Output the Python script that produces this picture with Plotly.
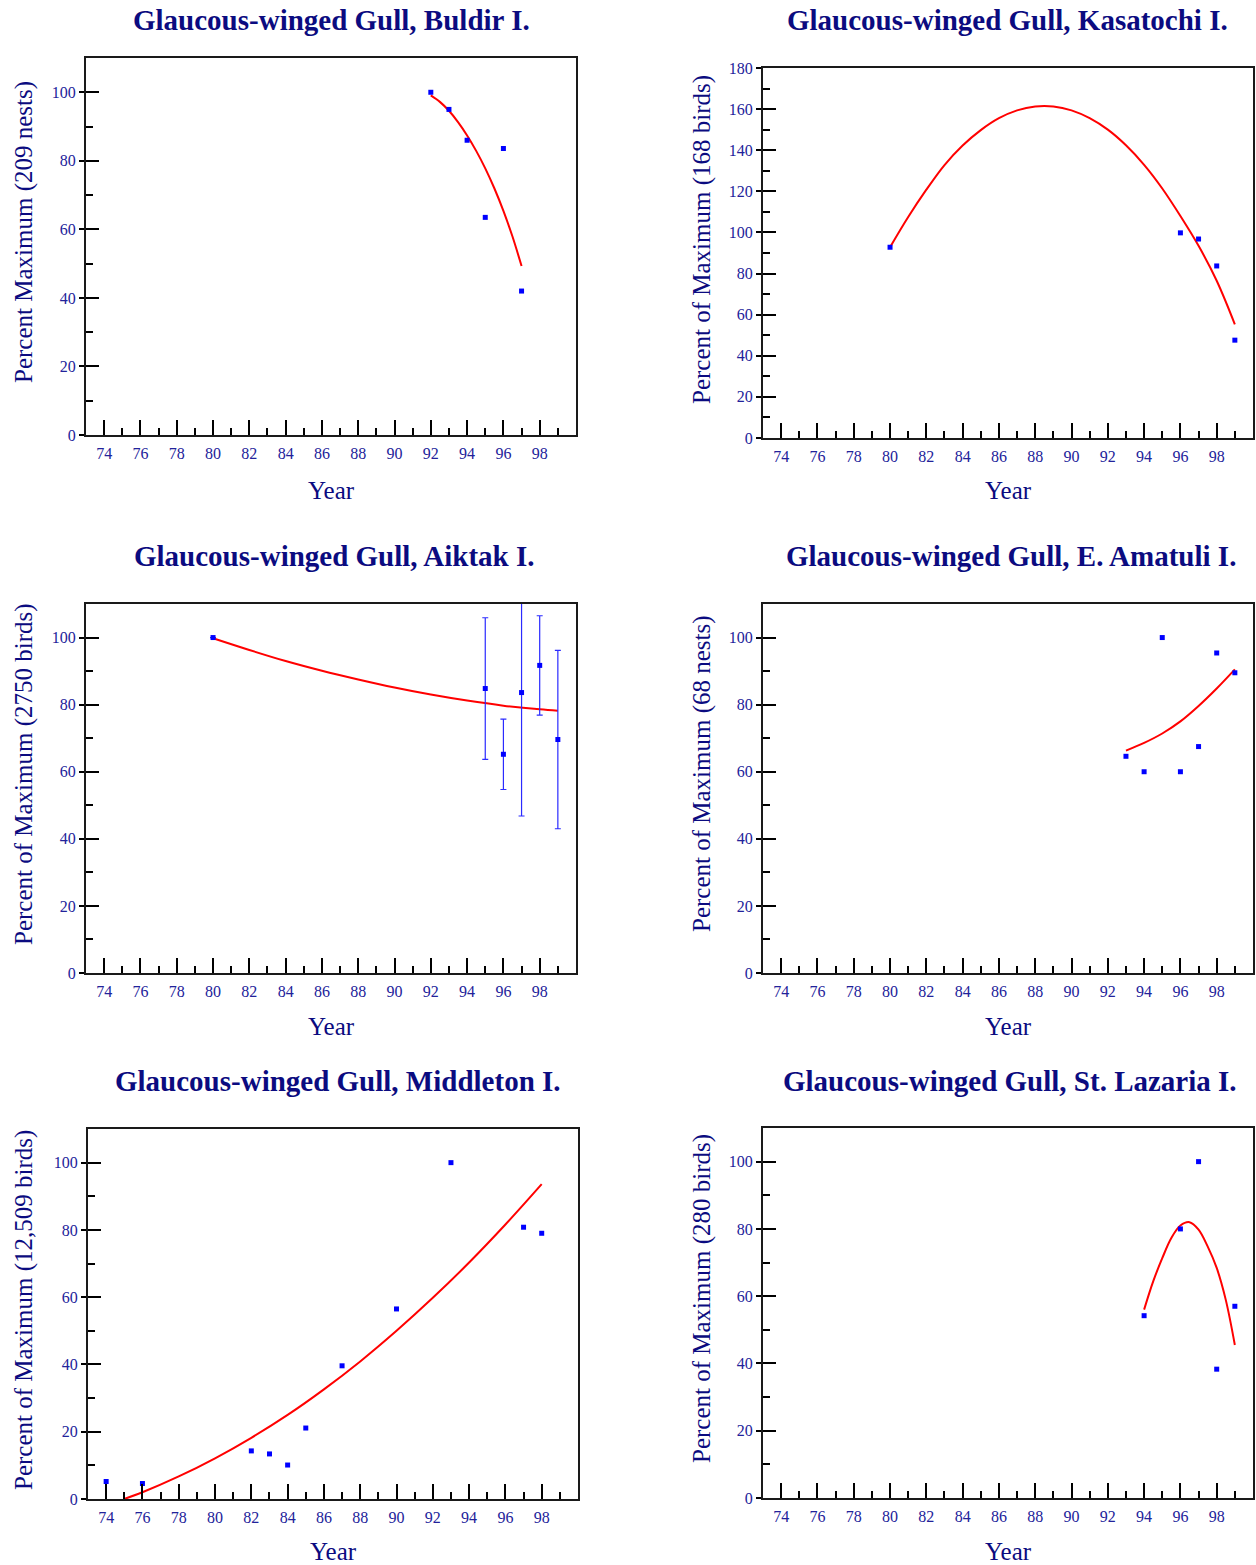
import plotly.graph_objects as go

# ---------------- data ----------------
buldir_years = [92, 93, 94, 95, 96, 97]
buldir_pct = [100, 95.0, 86.0, 63.5, 83.6, 42.0]
buldir_fit_years = [92, 92.5, 93, 93.5, 94, 94.5, 95, 95.5, 96, 96.5, 97]
buldir_fit = [99.1, 97.2, 94.6, 91.3, 87.4, 82.9, 77.8, 72.0, 65.4, 57.9, 49.3]

kasatochi_years = [80, 96, 97, 98, 99]
kasatochi_pct = [92.8, 99.8, 96.8, 83.7, 47.6]
kasatochi_fit_years = [80, 81, 82, 83, 84, 85, 86, 87, 88, 89, 90, 91, 92, 93, 94, 95, 96, 97, 98, 99]
kasatochi_fit = [92.8, 107.5, 120.8, 132.8, 142.3, 149.8, 155.6, 159.4, 161.3, 161.3,
                 159.4, 155.6, 150.0, 142.4, 132.9, 121.4, 108.0, 93.5, 76.5, 55.3]

aiktak_years = [80, 95, 96, 97, 98, 99]
aiktak_pct = [100, 84.8, 65.2, 83.6, 91.7, 69.6]
aiktak_err = [None, 21.1, 10.5, 36.8, 14.8, 26.6]
aiktak_fit_years = [80, 82, 84, 86, 88, 90, 92, 94, 96, 98, 99]
aiktak_fit = [99.8, 96.3, 93.0, 90.1, 87.5, 85.1, 83.0, 81.2, 79.7, 78.6, 78.2]

amatuli_years = [93, 94, 95, 96, 97, 98, 99]
amatuli_pct = [64.6, 60.0, 100, 60.0, 67.5, 95.4, 89.5]
amatuli_fit_years = [93, 94, 95, 96, 97, 98, 99]
amatuli_fit = [66.3, 68.6, 71.4, 75.0, 79.6, 84.8, 90.5]

middleton_years = [74, 76, 82, 83, 84, 85, 87, 90, 93, 97, 98]
middleton_pct = [5.2, 4.6, 14.3, 13.4, 10.1, 21.1, 39.6, 56.5, 100, 80.8, 79.0]
middleton_fit_years = [75, 76, 78, 80, 82, 84, 86, 88, 90, 92, 94, 96, 98]
middleton_fit = [0, 2.0, 6.7, 12.1, 18.2, 25.0, 32.6, 40.9, 50.0, 59.8, 70.3, 81.6, 93.6]

lazaria_years = [94, 96, 97, 98, 99]
lazaria_pct = [54.2, 80.0, 100, 38.3, 57.0]
lazaria_fit_years = [94, 94.5, 95, 95.5, 96, 96.5, 97, 97.5, 98, 98.5, 99]
lazaria_fit = [56.0, 64.4, 71.3, 77.3, 81.0, 82.0, 79.8, 74.8, 68.4, 58.9, 45.5]

titles = ["Glaucous-winged Gull, Buldir I.", "Glaucous-winged Gull, Kasatochi I.",
          "Glaucous-winged Gull, Aiktak I.", "Glaucous-winged Gull, E. Amatuli I.",
          "Glaucous-winged Gull, Middleton I.", "Glaucous-winged Gull, St. Lazaria I."]
ylabels = ["Percent Maximum (209 nests)", "Percent of Maximum (168 birds)",
           "Percent of Maximum (2750 birds)", "Percent of Maximum (68 nests)",
           "Percent of Maximum (12,509 birds)", "Percent of Maximum (280 birds)"]
x_label = "Year"
x_major = [74, 76, 78, 80, 82, 84, 86, 88, 90, 92, 94, 96, 98]
x_minor = [75, 77, 79, 81, 83, 85, 87, 89, 91, 93, 95, 97, 99]

series = [
    (buldir_years, buldir_pct, None, buldir_fit_years, buldir_fit, 110),
    (kasatochi_years, kasatochi_pct, None, kasatochi_fit_years, kasatochi_fit, 180),
    (aiktak_years, aiktak_pct, aiktak_err, aiktak_fit_years, aiktak_fit, 110),
    (amatuli_years, amatuli_pct, None, amatuli_fit_years, amatuli_fit, 110),
    (middleton_years, middleton_pct, None, middleton_fit_years, middleton_fit, 110),
    (lazaria_years, lazaria_pct, None, lazaria_fit_years, lazaria_fit, 110),
]

# ---------------- layout geometry (pixels) ----------------
W, H = 1256, 1565
boxes = [(86, 576, 58, 435), (763, 1253, 68, 438),
         (86, 576, 604, 973), (763, 1253, 604, 973),
         (88, 578, 1129, 1499), (763, 1253, 1128, 1498)]
title_pos = [(331, 20), (1007, 20), (334, 556), (1011, 556), (338, 1081), (1010, 1081)]
ylab_pos = [(24, 232), (702, 240), (24, 774), (702, 774), (24, 1310), (702, 1299)]
year_y = [490, 490, 1026, 1026, 1551, 1551]

SERIF = "Liberation Serif, Times New Roman, serif"
NAVY = "#0b0b80"
TICKC = "#22229a"

fig = go.Figure()
layout = dict(width=W, height=H, margin=dict(l=0, r=0, t=0, b=0, pad=0),
              paper_bgcolor="white", plot_bgcolor="white", showlegend=False,
              annotations=[])

def fx(p):
    return p / W

def fy(p):
    return 1 - p / H

for i, (xs, ys, err, fxs, fys, ymax) in enumerate(series):
    n = i + 1
    xl, xr, yt, yb = boxes[i]
    xa = "xaxis" if n == 1 else f"xaxis{n}"
    ya = "yaxis" if n == 1 else f"yaxis{n}"
    yo = f"yaxis{n + 6}"
    xref = "x" if n == 1 else f"x{n}"
    yref = "y" if n == 1 else f"y{n}"
    yoref = f"y{n + 6}"
    ymaj = list(range(0, ymax - 9, 20)) if ymax == 110 else list(range(0, 181, 20))
    ymin = list(range(10, ymax, 20))

    layout[xa] = dict(domain=[fx(xl), fx(xr)], range=[73, 100], anchor=yref,
                      automargin=False,
                      showgrid=False, zeroline=False, showline=True, mirror=True,
                      linecolor="#1a1a1a", linewidth=2,
                      tickmode="array", tickvals=x_major, ticktext=[str(v) for v in x_major],
                      ticks="inside", ticklen=15, tickwidth=1.5, tickcolor="black",
                      minor=dict(tickmode="array", tickvals=x_minor, ticks="inside",
                                 ticklen=7, tickwidth=1.5, tickcolor="black"),
                      tickfont=dict(family=SERIF, size=16, color=TICKC),
                      ticklabelstandoff=3)
    layout[ya] = dict(domain=[fy(yb), fy(yt)], range=[0, ymax], anchor=xref,
                      automargin=False,
                      showgrid=False, zeroline=False, showline=True, mirror=True,
                      linecolor="#1a1a1a", linewidth=2,
                      tickmode="array", tickvals=ymaj, ticktext=[str(v) for v in ymaj],
                      ticks="outside", ticklen=5, tickwidth=1.5, tickcolor="black",
                      minor=dict(tickmode="array", tickvals=ymin, ticks="inside",
                                 ticklen=7, tickwidth=1.5, tickcolor="black"),
                      tickfont=dict(family=SERIF, size=16, color=TICKC),
                      ticklabelstandoff=0)
    layout[yo] = dict(overlaying=yref, anchor=xref, range=[0, ymax], side="left",
                      automargin=False,
                      showgrid=False, zeroline=False, showline=False,
                      tickmode="array", tickvals=ymaj, showticklabels=False,
                      ticks="inside", ticklen=13, tickwidth=1.5, tickcolor="black")

    fig.add_trace(go.Scatter(x=fxs, y=fys, mode="lines", xaxis=xref, yaxis=yref,
                             line=dict(color="#ff0000", width=2, shape="spline", smoothing=1.0),
                             hoverinfo="skip"))
    tr = dict(x=xs, y=ys, mode="markers", xaxis=xref, yaxis=yoref,
              marker=dict(symbol="square", size=5, color="#0000ff", line=dict(width=0)))
    if err is not None:
        tr["error_y"] = dict(type="data", array=[e if e is not None else 0 for e in err],
                             symmetric=True, color="#2b2bff", thickness=1.2, width=3)
    fig.add_trace(go.Scatter(**tr))

    tx, ty = title_pos[i]
    layout["annotations"].append(dict(text=f"<b>{titles[i]}</b>", x=fx(tx), y=fy(ty),
                                      xref="paper", yref="paper", showarrow=False,
                                      xanchor="center", yanchor="middle",
                                      font=dict(family=SERIF, size=29, color=NAVY)))
    lx, ly = ylab_pos[i]
    layout["annotations"].append(dict(text=ylabels[i], x=fx(lx), y=fy(ly), textangle=-90,
                                      xref="paper", yref="paper", showarrow=False,
                                      xanchor="center", yanchor="middle",
                                      font=dict(family=SERIF, size=25, color=NAVY)))
    layout["annotations"].append(dict(text=x_label, x=fx((xl + xr) / 2), y=fy(year_y[i]),
                                      xref="paper", yref="paper", showarrow=False,
                                      xanchor="center", yanchor="middle",
                                      font=dict(family=SERIF, size=25, color=NAVY)))

fig.update_layout(**layout)
fig.write_html("out.html")
